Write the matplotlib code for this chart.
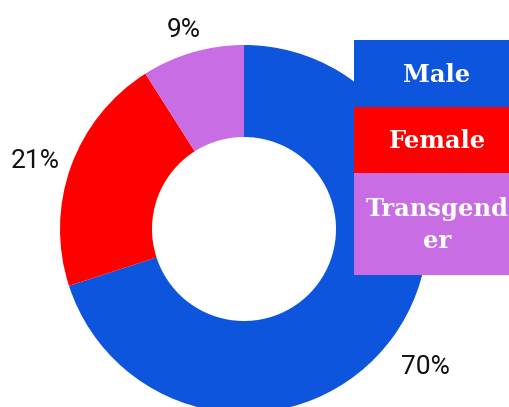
import matplotlib
matplotlib.use("Agg")
import matplotlib.pyplot as plt
from matplotlib import font_manager
from matplotlib.patches import Rectangle
import numpy as np

# data
categories = ["Male", "Female", "Transgender"]
legend_text = ["Male", "Female", "Transgend\ner"]
values = [70, 21, 9]
colors = ["#0d55dd", "#ff0000", "#c86de3"]

# label placement (radius factor, angle nudge in degrees)
label_dist = [1.24, 1.195, 1.13]
label_nudge = [-1.3, 1.8, 0.6]

names = {f.name for f in font_manager.fontManager.ttflist}
pct_font = "Liberation Sans Narrow" if "Liberation Sans Narrow" in names else "Roboto"

W, H = 510, 407
fig = plt.figure(figsize=(W / 100, H / 100), dpi=100)
ax = fig.add_axes([0, 0, 1, 1])

cx, cy, R = 244, H - 229, 184

wedges, _ = ax.pie(values, colors=colors, startangle=90, counterclock=False,
                   center=(cx, cy), radius=R,
                   wedgeprops=dict(width=R / 2, linewidth=0), frame=True)
ax.set_xlim(0, W)
ax.set_ylim(0, H)
ax.axis("off")

for w, v, d, n in zip(wedges, values, label_dist, label_nudge):
    ang = np.deg2rad((w.theta1 + w.theta2) / 2 + n)
    ax.text(cx + d * R * np.cos(ang), cy + d * R * np.sin(ang), f"{v}%",
            ha="center", va="center", fontsize=19, family=pct_font,
            fontstretch="condensed", color="#111111")

# legend boxes
box_x = 354
box_tops = [40, 107, 173]
box_h = [67, 66, 102]
for txt, c, top, h in zip(legend_text, colors, box_tops, box_h):
    ax.add_patch(Rectangle((box_x, H - top - h), W - box_x + 5, h, facecolor=c,
                           edgecolor="none", zorder=5))
    ax.text(box_x + 83, H - top - h / 2 - 1, txt, ha="center", va="center",
            fontsize=17.5, fontweight="bold", family="DejaVu Serif", color="white",
            zorder=6, linespacing=1.45)

fig.savefig("out.png", dpi=100)
